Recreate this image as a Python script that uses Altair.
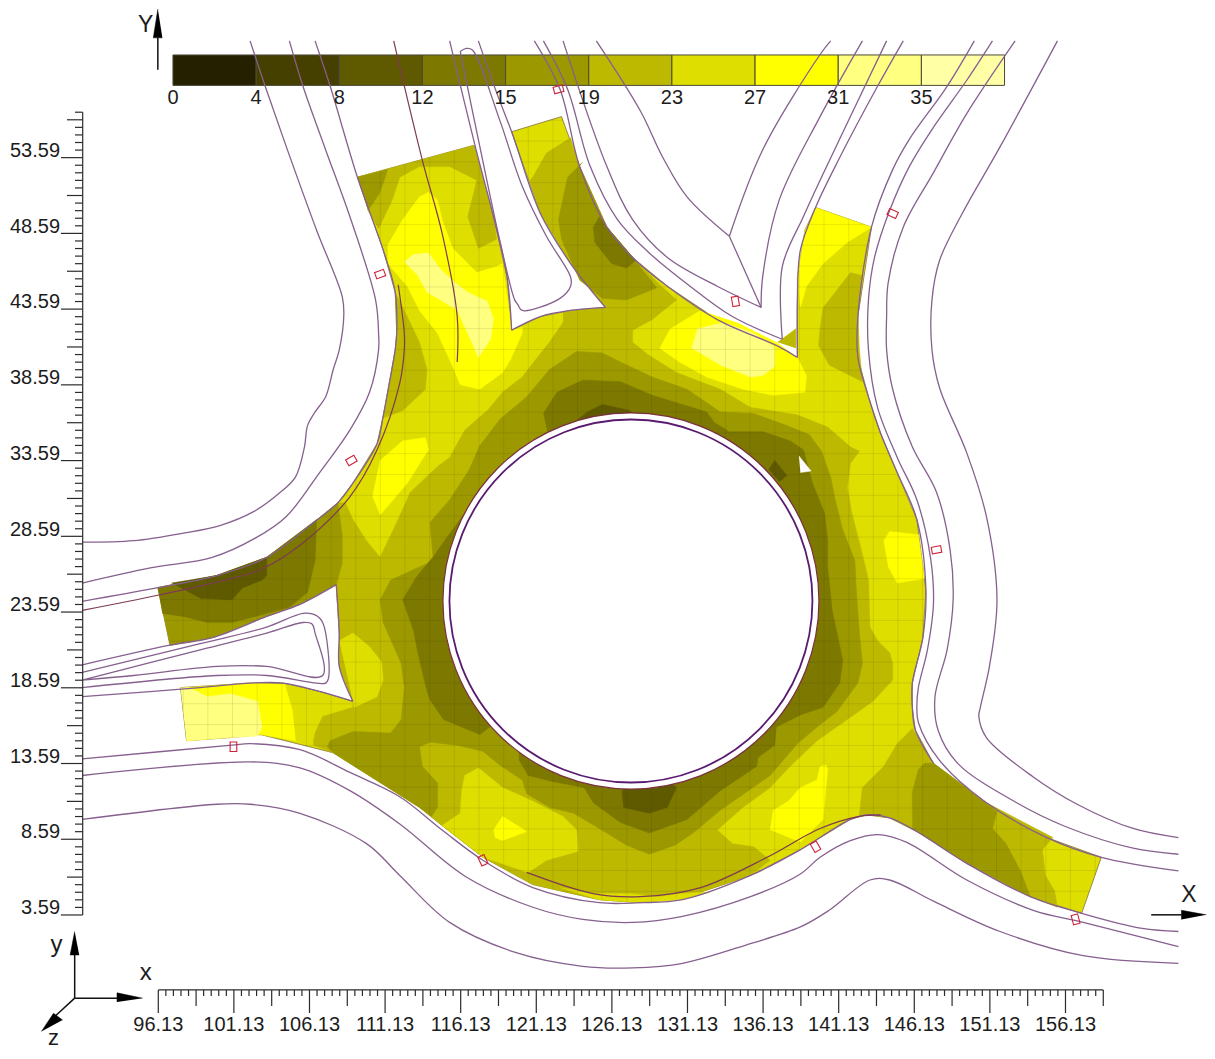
import altair as alt
import pandas as pd

FONT = "Liberation Sans"
X_DOMAIN = [86.19, 165.49]
Y_DOMAIN = [-5.39, 63.47]

C5F, C7C, C9C, CBD, CDD, CFF, CLT = "#5f5a00", "#7c7800", "#9c9800", "#bdb900", "#dede00", "#ffff00", "#ffff80"
LEVELS = ["0", "4", "8", "12", "15", "19", "23", "27", "31", "35"]
BAR_COLORS = ["#252000", "#453f00", C5F, C7C, C9C, CBD, CDD, CFF, "#ffff80", "#ffffa6"]
BAR_EDGES = [97.1, 102.6, 108.1, 113.6, 119.1, 124.6, 130.1, 135.6, 141.1, 146.6, 152.1]

base = [(109.3,52.3),(117.0,54.4),(118.3,49.7),(119.2,45.7),(119.5,42.2),(121.4,43.1),(123.4,43.5),(125.7,43.7),(123.4,46.6),(121.4,49.9),(119.5,55.3),(122.8,56.3),(124.0,53.0),(125.8,49.0),(127.5,47.0),(129.8,45.1),(133.1,42.9),(137.2,41.1),(138.4,40.4),(138.4,45.7),(138.9,48.8),(139.6,50.3),(143.3,49.0),(142.4,43.1),(142.4,40.4),(143.1,37.8),(143.9,35.4),(145.0,32.8),(146.3,29.7),(146.9,25.0),(146.7,21.9),(146.0,18.9),(146.0,17.3),(146.2,15.8),(147.4,13.6),(150.9,11.0),(154.9,8.7),(158.5,7.4),(157.2,3.7),(153.8,4.8),(149.6,7.0),(146.3,9.1),(144.5,10.0),(143.0,10.2),(141.9,9.9),(138.6,7.9),(135.3,6.2),(130.8,4.7),(128.0,4.4),(125.3,4.6),(120.9,5.6),(117.6,7.4),(114.9,9.5),(113.4,10.7),(107.7,14.3),(102.9,15.5),(100.9,15.3),(98.0,15.1),(97.6,18.6),(102.2,18.9),(104.4,18.9),(106.6,18.4),(109.0,17.7),(108.1,20.0),(108.1,22.2),(107.9,25.4),(105.5,24.1),(103.3,23.3),(99.7,21.9),(96.9,21.4),(96.1,25.2),(100.0,26.0),(103.3,27.2),(106.4,29.5),(108.0,30.8),(109.0,32.1),(110.6,34.7),(111.0,36.5),(111.3,38.1),(111.8,40.9),(111.9,42.0),(111.8,44.7),(111.0,47.5),(109.3,52.3)]
nw_bd = [(109.3,52.3),(117.0,54.4),(118.3,49.7),(118.5,48.2),(117.3,47.6),(116.6,49.7),(117.2,52.1),(115.4,53.0),(113.4,53.0),(112.1,52.3),(111.6,50.8),(110.7,48.9),(110.0,50.1)]
nw_9c = [(109.3,52.3),(111.3,52.8),(110.8,51.3),(110.0,50.1)]
lobe_bd = [(111.8,44.7),(112.4,43.5),(113.4,41.4),(113.9,39.6),(113.8,38.3),(112.3,36.9),(111.0,36.4),(111.3,38.1),(111.8,40.9),(111.9,42.0)]
main_bd = [(122.9,43.4),(125.7,43.7),(123.4,46.6),(121.4,49.9),(120.7,52.1),(120.9,52.3),(121.8,53.9),(123.4,54.9),(124.0,53.0),(125.8,49.0),(127.5,47.0),(129.3,45.2),(130.4,44.2),(128.8,42.9),(127.5,42.2),(127.5,41.4),(128.5,40.6),(130.4,39.4),(133.3,38.3),(135.3,37.1),(138.4,36.6),(140.4,35.8),(141.9,34.5),(142.5,34.2),(141.9,33.4),(141.7,31.8),(142.0,30.1),(142.5,28.2),(143.1,25.7),(143.2,22.6),(143.7,21.7),(144.5,20.9),(144.7,20.2),(144.7,19.1),(143.4,17.7),(141.7,16.5),(139.7,15.1),(137.9,13.4),(136.6,12.0),(134.8,10.7),(133.1,9.2),(134.1,8.3),(135.5,8.1),(136.6,7.2),(135.3,6.2),(130.8,4.7),(128.0,4.4),(125.3,4.6),(120.9,5.6),(117.6,7.4),(114.9,9.5),(113.4,10.7),(107.7,14.3),(106.4,14.8),(106.4,15.1),(106.5,15.6),(107.0,16.7),(109.0,17.3),(109.0,17.7),(108.1,20.0),(108.1,22.2),(107.9,25.4),(108.3,26.8),(108.3,28.7),(108.0,30.8),(108.5,30.8),(109.0,29.7),(109.9,28.3),(110.8,27.2),(111.9,29.5),(112.8,31.5),(114.6,33.2),(115.4,33.8),(116.4,35.6),(117.2,36.3),(117.9,36.9),(118.9,38.1),(120.2,39.1),(121.2,40.4),(122.0,41.4),(122.9,42.7)]
ne_bd = [(141.9,46.0),(142.7,45.8),(142.4,43.1),(142.5,40.9),(142.7,38.8),(140.5,39.9),(139.8,41.2),(139.9,42.3),(140.1,43.7)]
notch_bd = [(137.1,41.4),(138.3,42.3),(138.3,41.0)]
se_bd = [(142.5,10.2),(142.7,12.0),(144.1,13.4),(145.0,14.9),(146.0,15.9),(147.4,13.6),(150.9,11.0),(155.3,8.7),(154.6,7.9),(154.8,6.2),(155.4,5.2),(155.6,4.1),(153.8,4.8),(149.6,7.0),(146.3,9.1),(144.5,10.0),(143.0,10.2)]
se_9c = [(146.0,10.3),(146.0,11.7),(146.4,13.2),(146.8,13.6),(147.4,13.6),(151.6,10.4),(151.3,9.3),(152.2,8.3),(153.2,6.4),(153.8,4.8),(149.6,7.0),(146.0,9.3)]
south_dd = [(114.9,9.5),(116.1,10.3),(116.2,11.8),(116.4,12.8),(117.3,13.3),(118.9,12.0),(120.9,11.1),(122.9,10.1),(123.8,9.2),(123.9,7.8),(121.8,7.2),(120.6,6.4),(117.6,7.4)]
sliver_dd = [(122.7,5.4),(125.3,4.6),(128.0,4.4),(130.8,4.6),(132.6,5.1),(130.6,5.0),(129.3,4.8),(127.3,5.0),(125.3,5.0)]
west_dd = [(108.1,21.7),(109.0,22.2),(110.1,21.3),(110.9,20.3),(111.0,19.1),(110.6,18.0),(109.1,17.3),(109.0,17.7)]
west_9c = [(96.1,25.2),(100.0,26.0),(103.3,27.2),(106.4,29.5),(108.0,30.8),(108.3,28.7),(108.3,26.8),(107.9,25.4),(105.5,24.1),(103.3,23.3),(99.7,21.9),(96.9,21.4)]
west_7c = [(96.1,25.2),(100.0,26.0),(103.3,27.2),(106.6,29.7),(106.5,27.0),(106.0,24.9),(104.8,23.9),(102.9,23.4),(101.0,22.9),(99.4,22.9),(97.8,23.3),(96.4,23.5)]
west_5f = [(97.0,25.5),(100.0,26.0),(103.3,27.2),(103.3,26.0),(103.0,25.7),(101.7,25.2),(101.0,24.4),(98.9,24.5)]
north_9c = [(124.2,53.3),(123.2,52.3),(122.6,49.5),(122.8,48.2),(124.0,45.5),(125.5,44.3),(127.1,44.2),(129.1,45.0),(127.5,47.0),(125.8,49.0),(124.0,53.0)]
north_7c = [(125.3,49.7),(124.9,49.0),(125.0,48.0),(126.1,46.6),(127.1,46.3),(127.7,46.8),(125.8,49.0)]
ring_9c = [(118.7,36.3),(120.5,37.8),(122.0,39.6),(123.8,40.8),(125.5,40.7),(126.7,40.1),(128.8,39.1),(131.1,38.3),(133.3,36.8),(135.5,36.7),(137.7,35.9),(139.2,35.3),(140.0,34.2),(140.6,32.5),(140.9,31.0),(141.4,29.0),(142.2,27.0),(142.3,25.0),(142.5,22.2),(142.7,20.2),(142.4,18.9),(141.0,17.0),(139.7,16.0),(138.4,14.9),(136.6,12.8),(133.3,10.5),(131.5,9.0),(130.3,8.2),(128.6,7.6),(127.1,8.2),(125.3,9.3),(123.6,10.3),(122.0,10.7),(120.5,11.6),(120.2,12.5),(118.7,13.5),(117.6,14.4),(115.9,14.8),(114.1,15.0),(113.4,14.7),(113.6,13.4),(114.6,12.3),(114.6,10.7),(114.2,10.1),(113.4,10.7),(107.7,14.3),(107.3,14.7),(107.5,15.1),(109.0,15.7),(111.5,15.6),(112.2,16.5),(112.4,18.6),(112.2,20.2),(111.0,22.9),(110.8,24.4),(111.5,25.7),(113.9,26.8),(114.3,27.2),(114.1,29.5),(115.4,31.0),(116.7,33.0),(117.4,34.6)]
ring_7c = [(121.6,36.7),(122.5,38.1),(124.2,38.9),(126.7,38.8),(128.8,37.9),(132.4,36.8),(132.9,36.1),(133.9,35.5),(136.1,35.5),(137.9,34.9),(138.8,34.3),(139.4,32.1),(140.2,30.1),(140.4,28.3),(140.4,26.6),(140.7,23.7),(141.4,20.4),(141.2,18.9),(140.1,17.3),(138.6,16.8),(137.0,16.0),(136.9,14.8),(135.8,14.0),(135.7,13.4),(133.3,11.8),(131.1,9.9),(128.6,9.0),(126.7,9.7),(124.9,11.0),(124.3,12.0),(122.2,12.4),(120.6,12.8),(120.0,13.8),(120.0,14.8),(118.7,16.5),(117.4,15.5),(115.0,16.5),(114.1,17.8),(113.9,18.4),(113.3,20.9),(113.0,22.4),(112.3,24.4),(113.2,25.9),(114.3,27.2),(115.2,28.5),(116.1,29.7),(117.5,31.8),(120.0,32.3),(122.0,34.9)]
blob_5f_n = [(123.4,35.9),(124.5,36.8),(125.5,37.3),(127.3,36.9),(128.0,36.3),(125.3,35.6)]
blob_5f_s = [(126.8,11.8),(126.9,10.7),(128.6,10.3),(129.8,10.7),(130.4,12.0),(128.6,13.2)]
blob_5f_ne = [(136.5,33.0),(136.9,33.6),(137.7,32.6),(137.2,32.2)]
yellow_nw = [(111.3,47.8),(112.3,49.5),(113.4,51.0),(114.0,51.3),(114.6,50.8),(114.9,49.5),(115.6,47.6),(117.2,46.0),(118.5,46.4),(118.9,46.6),(119.3,43.7),(119.5,42.2),(120.2,42.4),(120.2,42.0),(119.4,40.2),(118.9,39.4),(117.4,38.3),(116.1,38.6),(115.6,39.8),(114.6,42.0),(113.4,43.5),(112.6,45.1),(111.3,46.6)]
light_nw = [(112.4,46.7),(113.0,47.2),(114.0,47.3),(114.8,46.2),(115.8,45.3),(116.6,44.7),(117.9,44.1),(118.3,42.9),(118.1,41.6),(117.3,40.4),(116.6,42.0),(115.9,43.5),(114.8,44.2),(113.9,44.7),(113.3,45.8)]
yellow_w = [(110.3,31.2),(110.8,33.6),(112.3,34.9),(113.8,35.1),(114.0,34.3),(112.6,32.1),(110.8,30.0)]
yellow_n = [(132.0,43.5),(130.0,42.3),(129.3,41.0),(130.6,40.1),(132.4,39.1),(134.8,38.3),(136.8,37.9),(138.9,38.1),(139.0,39.2),(138.4,40.4),(137.0,41.4),(134.4,42.7)]
light_n = [(131.4,41.0),(131.8,42.3),(133.5,42.7),(135.5,42.0),(136.9,41.1),(136.9,39.8),(136.1,39.2),(135.3,39.1),(133.3,39.9)]
yellow_ne = [(139.6,50.3),(143.3,49.0),(141.7,48.0),(140.1,46.6),(139.0,45.1),(138.6,43.7),(138.4,45.7),(138.9,48.8)]
yellow_e = [(144.1,28.3),(144.5,28.9),(146.4,28.7),(146.8,25.8),(145.0,25.5),(144.4,26.6)]
yellow_s = [(136.6,9.2),(136.8,10.5),(137.8,11.1),(138.6,12.0),(139.7,12.5),(139.9,13.4),(140.3,13.5),(140.4,13.2),(140.1,9.9),(138.6,8.4)]
yellow_s2 = [(118.3,9.2),(118.9,10.1),(120.5,9.1),(118.9,8.5),(118.4,8.7)]
yellow_sw = [(97.9,18.6),(102.2,18.9),(104.5,18.8),(105.0,17.1),(105.2,15.1),(102.9,15.5),(98.0,15.1)]
light_sw = [(97.6,18.6),(98.2,18.6),(99.4,18.0),(100.9,18.2),(102.7,17.7),(103.0,16.0),(102.7,15.4),(100.9,15.3),(98.0,15.1)]
white_gap = [(138.5,33.9),(139.3,32.9),(138.6,32.8)]

PATCHES = [
    (nw_bd, CBD), (nw_9c, C9C), (lobe_bd, CBD), (main_bd, CBD), (ne_bd, CBD), (notch_bd, CBD),
    (se_bd, CBD), (se_9c, C9C), (south_dd, CDD), (sliver_dd, CDD), (west_dd, CDD), (west_9c, C9C),
    (west_7c, C7C), (west_5f, C5F), (north_9c, C9C), (north_7c, C7C), (ring_9c, C9C), (ring_7c, C7C),
    (blob_5f_n, C5F), (blob_5f_s, C5F), (blob_5f_ne, C5F), (yellow_nw, CFF), (light_nw, CLT),
    (yellow_w, CFF), (yellow_n, CFF), (light_n, CLT), (yellow_ne, CFF), (yellow_e, CFF),
    (yellow_s, CFF), (yellow_s2, CFF), (yellow_sw, CFF), (light_sw, CLT),
]

road_l1 = [(102.2,61.3),(103.2,58.3),(104.6,54.3),(106.6,48.8),(108.3,44.4),(108.4,43.2),(108.1,40.9),(107.7,39.6),(107.2,37.8),(106.5,36.8),(106.0,35.9),(105.8,34.5),(105.2,32.5),(104.2,31.5),(102.4,30.2),(100.2,29.3),(97.8,28.8),(94.5,28.3),(91.1,28.2)]
road_l2 = [(104.8,61.3),(105.7,58.3),(107.2,54.1),(108.8,49.7),(110.5,44.2),(110.7,42.0),(110.7,40.9),(110.1,38.1),(108.8,35.6),(106.8,32.8),(104.6,29.9),(102.6,28.5),(99.7,27.2),(95.6,26.5),(91.1,25.5)]
road_l3 = [(106.5,61.3),(107.5,58.3),(109.3,52.3),(111.0,47.5),(111.8,44.7),(111.9,42.0),(111.8,40.9),(111.3,38.1),(111.0,36.5),(110.6,34.7),(109.0,32.1),(108.0,30.8),(106.4,29.5),(103.3,27.2),(100.0,26.0),(96.1,25.2),(91.1,24.3)]
road_l4 = [(112.0,45.2),(112.4,42.0),(112.4,40.9),(112.1,38.7),(110.6,34.3),(108.8,31.2),(105.5,28.0),(102.9,26.4),(99.7,25.5),(96.1,24.7),(91.1,23.7)]
road_l5 = [(111.7,61.3),(113.6,53.4),(114.9,48.6),(115.9,43.1),(115.9,40.1)]
island_a = [(115.4,61.3),(117.1,54.3),(118.3,49.7),(119.2,45.7),(119.5,42.2)]
island_b = [(119.5,42.2),(121.4,43.1),(123.4,43.5),(125.7,43.7)]
island_c = [(125.7,43.7),(123.4,46.6),(121.4,49.9),(119.5,55.3),(118.5,57.9),(117.3,61.3)]
island_in = [(116.1,60.6),(117.4,54.3),(118.7,48.2),(119.7,44.2),(119.9,43.9),(120.2,43.5),(122.7,44.3),(123.4,45.1),(123.4,45.7),(121.8,48.4),(120.2,51.7),(118.7,56.1),(116.9,60.7),(116.5,60.8),(116.1,60.6)]
road_l8 = [(121.0,61.3),(122.7,58.1),(124.0,53.0),(125.8,49.0),(127.5,47.0),(129.8,45.1),(133.1,42.9),(137.2,41.1),(138.4,40.4)]
road_l8b = [(138.4,40.4),(138.4,44.2),(138.6,47.5),(139.6,50.3),(141.2,53.6),(143.7,58.3),(145.4,61.3)]
road_l9 = [(121.6,61.3),(123.2,58.1),(124.7,53.0),(126.5,49.5),(128.6,47.3),(131.3,45.1),(134.1,43.1),(137.4,41.6)]
road_l9b = [(137.4,41.6),(137.4,46.4),(138.8,49.7),(139.9,52.1),(144.3,61.3)]
road_l10 = [(122.9,61.3),(125.8,53.0),(127.5,49.5),(129.8,47.0),(133.1,45.1),(136.0,43.7)]
road_l10b = [(136.0,43.7),(136.1,45.7),(137.2,50.8),(139.9,56.3),(142.7,61.3)]
road_l11 = [(125.1,61.3),(128.0,56.7),(129.5,53.6),(131.1,51.0),(133.9,48.4)]
road_l11b = [(133.9,48.4),(136.1,54.1),(139.9,60.4),(140.6,61.3)]
road_l11c = [(133.9,48.4),(136.0,43.7)]
road_r1 = [(150.1,61.3),(148.3,58.3),(145.8,54.8),(144.7,52.8),(143.3,49.0),(142.4,43.1),(142.4,40.4),(143.1,37.8),(143.9,35.4),(145.0,32.8),(146.3,29.7),(146.9,25.0),(146.7,21.9),(146.0,18.9),(146.0,17.3),(146.2,15.8),(147.4,13.6)]
road_r2 = [(151.3,61.3),(149.6,58.7),(147.4,55.6),(145.8,53.0),(144.5,50.1),(143.5,47.0),(143.1,44.2),(143.1,40.9),(143.7,37.1),(145.0,33.8),(146.3,31.0),(147.2,27.2),(147.4,24.2),(147.0,21.1),(146.4,18.6),(146.3,17.3),(146.4,16.3),(147.8,13.8),(150.9,11.0),(154.9,8.7),(158.5,7.4),(163.6,6.5)]
road_r3 = [(152.8,61.3),(149.6,56.5),(147.4,52.6),(145.4,49.0),(144.4,45.3),(144.3,43.1),(144.3,40.9),(144.7,38.3),(146.0,34.5),(147.6,31.5),(148.5,27.7),(148.7,24.4),(148.3,21.1),(147.5,18.0),(147.7,15.8),(149.0,13.6),(152.9,11.0),(156.2,9.4),(160.6,8.0),(163.6,7.6)]
road_r4 = [(155.6,61.3),(151.8,54.3),(149.3,49.9),(147.8,46.8),(147.3,44.2),(147.3,40.9),(147.8,38.4),(149.6,34.1),(150.9,29.9),(151.6,24.4),(151.1,20.0),(150.5,17.3),(150.4,16.7),(150.9,15.3),(154.0,12.7),(156.9,10.9),(160.6,9.3),(163.6,8.7)]
road_a = [(91.1,13.9),(101.0,14.8),(102.2,14.9),(105.5,14.5),(108.8,13.0),(112.1,11.4),(114.9,9.2),(117.6,7.2),(120.9,5.4),(125.3,4.4),(128.0,4.4),(130.8,4.6),(135.3,6.2),(138.6,7.9),(141.9,9.9),(143.0,10.2),(144.5,10.0),(146.3,9.1),(149.6,7.0),(153.8,4.8),(157.2,3.7),(161.2,2.7),(163.6,2.5)]
road_b = [(91.1,12.8),(102.2,13.7),(105.5,13.3),(108.8,11.8),(112.1,9.6),(116.5,6.1),(120.9,4.1),(124.2,3.3),(127.5,3.1),(130.8,3.5),(135.3,4.8),(138.6,6.3),(139.9,7.4),(141.9,8.5),(143.7,8.9),(145.6,8.4),(149.6,5.9),(154.0,3.9),(157.3,3.1),(163.6,1.5)]
road_c = [(91.1,9.9),(100.0,10.9),(102.2,10.9),(105.5,10.3),(109.9,8.3),(112.1,6.2),(115.4,3.1),(119.8,1.1),(124.2,0.2),(127.5,0.1),(130.8,0.4),(135.3,1.7),(138.6,2.8),(140.5,3.9),(143.2,5.9),(144.5,5.9),(147.4,4.5),(151.8,2.5),(157.3,0.9),(163.6,0.4)]
road_a2 = [(120.5,6.4),(124.9,5.0),(128.0,4.8),(132.0,5.4),(136.4,7.4),(139.9,9.3),(142.5,10.1),(143.9,10.2)]
west_a = [(91.1,20.1),(96.9,21.4),(99.7,21.9),(103.3,23.3),(105.5,24.1),(107.9,25.4)]
west_b = [(107.9,25.4),(108.1,22.2),(108.1,20.0),(109.0,17.7)]
west_c = [(109.0,17.7),(106.6,18.4),(104.4,18.9),(102.2,18.9),(98.9,18.6),(91.1,18.0)]
west_i2 = [(91.1,19.6),(98.9,21.5),(103.3,22.6),(105.7,23.5),(106.5,23.4),(107.0,22.9),(107.4,19.3),(107.2,18.9),(106.6,18.9),(103.3,19.4),(100.0,19.4),(91.1,18.6)]
west_i3 = [(91.1,19.1),(98.9,21.1),(103.3,22.2),(105.7,22.9),(106.3,22.8),(106.5,22.2),(107.0,19.4),(103.3,20.0),(100.0,20.0),(94.5,19.4),(91.1,19.1)]

ROADS = [road_l1, road_l2, road_l3, island_a, island_b, island_c, island_in, road_l8, road_l8b,
         road_l9, road_l9b, road_l10, road_l10b, road_l11, road_l11b, road_l11c, road_r1, road_r2, road_r3,
         road_r4, road_a, road_b, road_c, west_a, west_b, west_c, west_i2, west_i3]
DARK_ROADS = [road_l4, road_a2]

MARKERS_X = [110.8, 108.9, 122.6, 134.3, 144.7, 147.6, 156.8, 139.6, 117.6, 101.1]
MARKERS_Y = [45.9, 33.6, 58.1, 44.1, 49.9, 27.7, 3.3, 8.1, 7.2, 14.7]
MARKERS_A = [-20, -30, -15, 80, 25, -10, 75, 60, 65, 90]

CENTER_X, CENTER_Y = 127.39, 24.32
GRID_X0, GRID_DX = 140.16, 1.63
GRID_Y0, GRID_DY = 18.91, 1.376
CIRCLE_R = 188 / 15.13

XS = alt.Scale(domain=X_DOMAIN, nice=False, zero=False)
YS = alt.Scale(domain=Y_DOMAIN, nice=False, zero=False)
EX = alt.X("x:Q", scale=XS, axis=None)
EY = alt.Y("y:Q", scale=YS, axis=None)


def patch(points, color, stroke=None, width=0.5):
    df = pd.DataFrame({"x": [p[0] for p in points], "y": [p[1] for p in points], "i": range(len(points))})
    return alt.Chart(df).mark_line(fill=color, stroke=stroke or color, strokeWidth=width).encode(
        x=EX, y=EY, order=alt.Order("i:Q"))


def lines(groups, color, width):
    rows = [{"id": g, "i": i, "x": p[0], "y": p[1]} for g, pts in enumerate(groups) for i, p in enumerate(pts)]
    return alt.Chart(pd.DataFrame(rows)).mark_line(
        stroke=color, strokeWidth=width, interpolate="catmull-rom").encode(
        x=EX, y=EY, detail="id:N", order=alt.Order("i:Q"))


def rules(rows, color, width, opacity=1.0):
    df = pd.DataFrame(rows, columns=["x", "y", "x2", "y2"])
    return alt.Chart(df).mark_rule(color=color, strokeWidth=width, opacity=opacity).encode(
        x=EX, y=EY, x2=alt.X2("x2"), y2=alt.Y2("y2"))


def texts(xs, ys, labels, size, align="center", color="#1c1c1c"):
    df = pd.DataFrame({"x": xs, "y": ys, "t": labels})
    return alt.Chart(df).mark_text(font=FONT, fontSize=size, align=align, baseline="middle", color=color).encode(
        x=EX, y=EY, text="t:N")


def crossings(value, axis):
    """Spans of a mesh line that lie inside the road surface, outside the central island."""
    other = 1 - axis
    hits = []
    for a, b in zip(base[:-1], base[1:]):
        if (a[axis] <= value) != (b[axis] <= value):
            t = (value - a[axis]) / (b[axis] - a[axis])
            hits.append(a[other] + t * (b[other] - a[other]))
    hits.sort()
    spans = list(zip(hits[0::2], hits[1::2]))
    centre_a, centre_o = (CENTER_X, CENTER_Y) if axis == 0 else (CENTER_Y, CENTER_X)
    d = abs(value - centre_a)
    if d < CIRCLE_R:
        half = (CIRCLE_R ** 2 - d ** 2) ** 0.5
        out = []
        for s, e in spans:
            if s < centre_o - half:
                out.append((s, min(e, centre_o - half)))
            if e > centre_o + half:
                out.append((max(s, centre_o + half), e))
        spans = out
    return spans


grid_rows = []
for k in range(-30, 30):
    gx = GRID_X0 + k * GRID_DX
    for s, e in crossings(gx, 0):
        grid_rows.append((gx, s, gx, e))
    gy = GRID_Y0 + k * GRID_DY
    for s, e in crossings(gy, 1):
        grid_rows.append((s, gy, e, gy))

# axes
y_minor, y_mid, y_long, x_minor, x_mid, x_long = [], [], [], [], [], []
for k in range(107):
    v = 3.59 + 0.5 * k
    (y_long if k % 10 == 0 else y_mid if k % 5 == 0 else y_minor).append(v)
for k in range(126):
    v = 96.13 + 0.5 * k
    (x_long if k % 10 == 0 else x_mid if k % 5 == 0 else x_minor).append(v)

AX_X, AX_Y = 91.13, -1.36
axis_rows = [(AX_X, 3.59, AX_X, 56.59), (96.13, AX_Y, 158.63, AX_Y)]
for vals, left in ((y_minor, 90.62), (y_mid, 90.09), (y_long, 89.69)):
    axis_rows += [(AX_X, v, left, v) for v in vals]
for vals, low in ((x_minor, -1.76), (x_mid, -2.42), (x_long, -2.88)):
    axis_rows += [(v, AX_Y, v, low) for v in vals]

bar = pd.DataFrame({"x": BAR_EDGES[:-1], "x2": BAR_EDGES[1:], "y": [58.36] * 10, "y2": [60.37] * 10, "c": BAR_COLORS})
bar_layer = alt.Chart(bar).mark_rect(stroke="#4a4a3a", strokeWidth=1).encode(
    x=EX, x2=alt.X2("x2"), y=EY, y2=alt.Y2("y2"), color=alt.Color("c:N", scale=None, legend=None))

arrow_rows = [(96.1, 61.5, 96.1, 59.4), (161.8, 3.6, 163.8, 3.6), (90.6, -1.9, 90.6, 0.95),
              (90.6, -1.9, 93.4, -1.9), (90.6, -1.9, 89.3, -3.1)]
arrow_heads = [[(96.1, 63.4), (95.8, 61.5), (96.4, 61.5)],
               [(165.45, 3.6), (163.8, 3.9), (163.8, 3.3)],
               [(90.6, 2.5), (90.3, 0.95), (90.9, 0.95)],
               [(95.1, -1.9), (93.4, -1.55), (93.4, -2.15)],
               [(88.4, -4.1), (89.2, -2.9), (89.8, -3.35)]]

marker_df = pd.DataFrame({"x": MARKERS_X, "y": MARKERS_Y, "a": MARKERS_A})
marker_layer = alt.Chart(marker_df).mark_point(
    shape="M-1,-0.7L1,-0.7L1,0.7L-1,0.7Z", size=90, color="#d0203a", strokeWidth=1.1, opacity=1, filled=False).encode(
    x=EX, y=EY, angle=alt.Angle("a:Q", scale=None))

centre = pd.DataFrame({"x": [CENTER_X], "y": [CENTER_Y]})
outer_circle = alt.Chart(centre).mark_point(
    shape="circle", size=376 ** 2, fill="#ffffff", stroke="#7a3040", strokeWidth=1.2, opacity=1).encode(x=EX, y=EY)
inner_circle = alt.Chart(centre).mark_point(
    shape="circle", size=363 ** 2, stroke="#5a1a70", strokeWidth=1.8, opacity=1).encode(x=EX, y=EY)

layers = [patch(base, CDD, stroke="#8f7f45", width=0.9)]
layers += [patch(p, c) for p, c in PATCHES]
layers += [rules(grid_rows, "#3a3a00", 0.7, 0.16), patch(white_gap, "#ffffff"), outer_circle, inner_circle]
layers += [bar_layer, lines(ROADS, "#86608e", 1.3), lines(DARK_ROADS + [road_l5], "#7d3a55", 1.2), marker_layer]
layers += [rules(axis_rows, "#2b2b2b", 1.2), rules(arrow_rows, "#111111", 1.5)]
layers += [patch(h, "#000000") for h in arrow_heads]
layers += [
    texts([97.1 + 5.5 * i for i in range(10)], [57.53] * 10, LEVELS, 20),
    texts([89.63] * 11, [3.59 + 5 * i + 0.45 for i in range(11)], [f"{3.59 + 5 * i:.2f}" for i in range(11)], 20, "right"),
    texts([96.13 + 5 * i for i in range(13)], [-3.67] * 13, [f"{96.13 + 5 * i:.2f}" for i in range(13)], 20),
    texts([95.3, 164.3], [62.35, 4.9], ["Y", "X"], 23),
    texts([95.3, 89.4], [-0.24, 1.6], ["x", "y"], 24),
    texts([89.2], [-4.55], ["z"], 22),
]

chart = alt.layer(*layers).properties(
    width=1199, height=1043, padding=0, autosize=alt.AutoSizeParams(type="none")
).configure_view(strokeWidth=0)

chart.save("out.html", embed_options={"renderer": "svg", "actions": False})
